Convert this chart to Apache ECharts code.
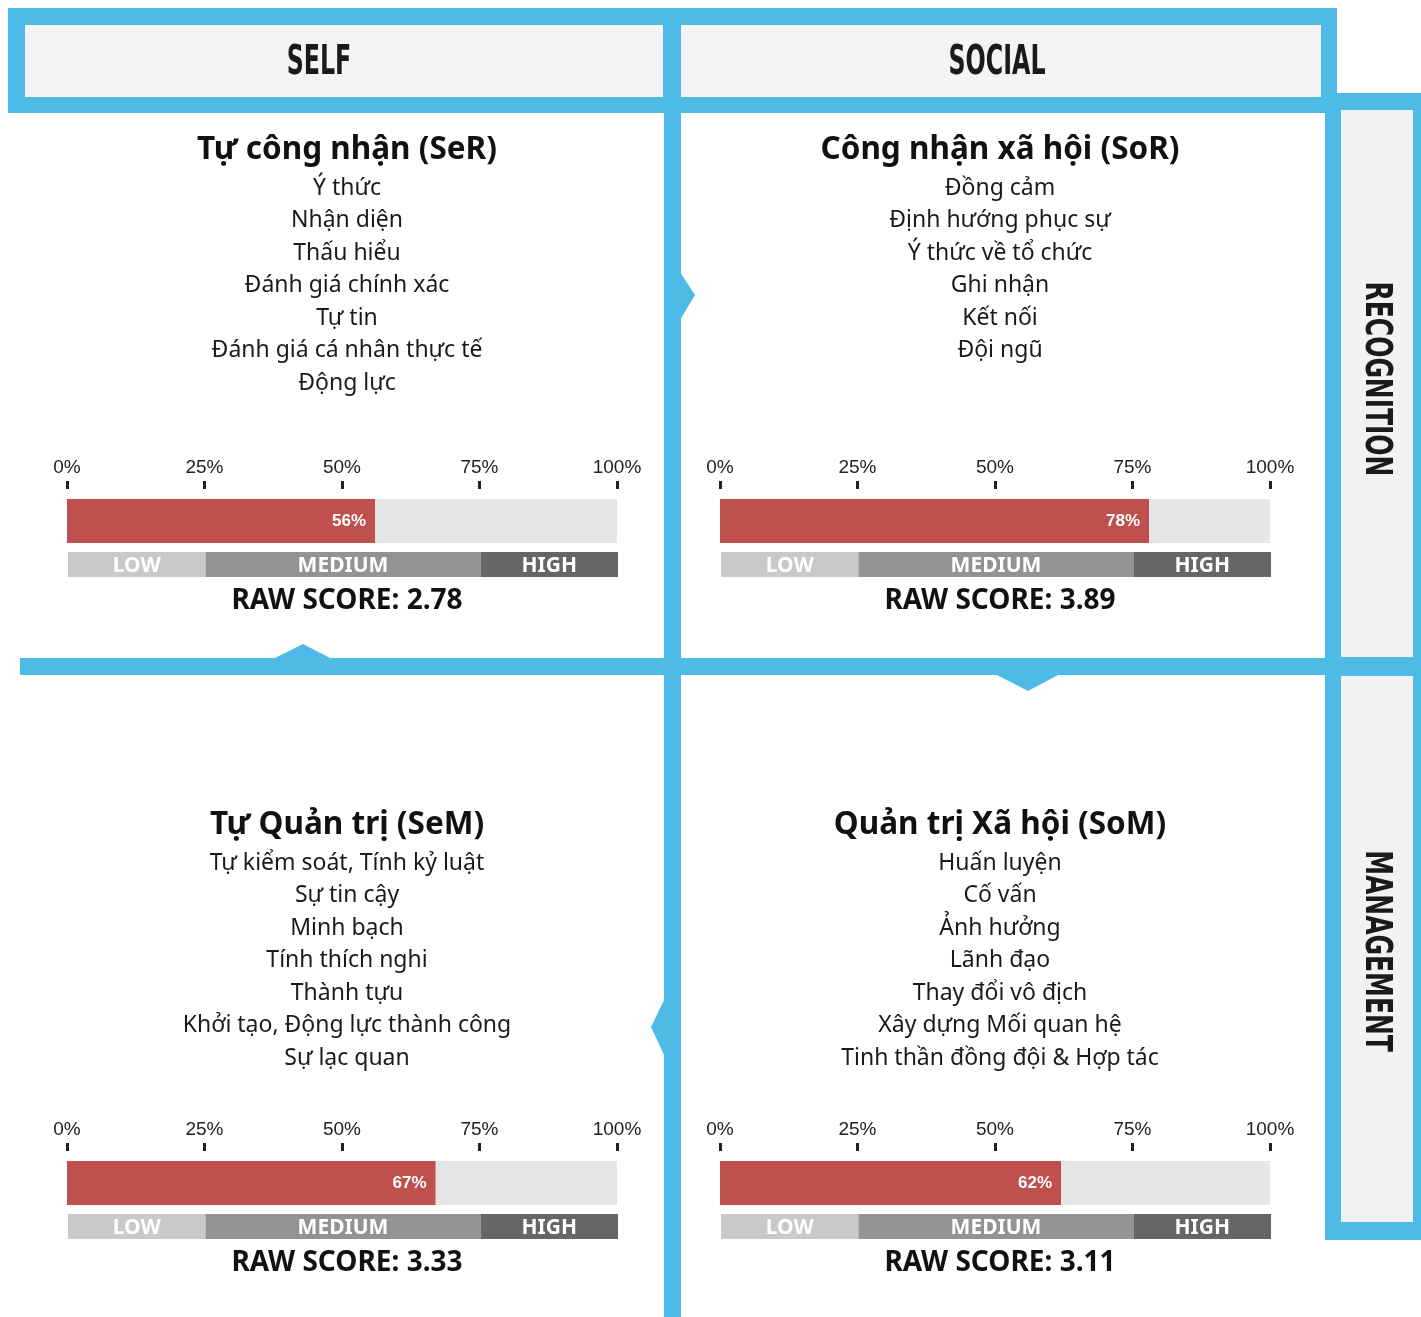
<!DOCTYPE html>
<html>
<head>
<meta charset="utf-8">
<script src="https://cdn.jsdelivr.net/npm/echarts@6/dist/echarts.min.js"></script>
<style>
html, body { margin: 0; padding: 0; background: #fff; }
#main { width: 1421px; height: 1317px; }
</style>
</head>
<body>
<div id="main"></div>
<script>
// data
const columnHeaders = ['SELF', 'SOCIAL'];
const rowHeaders = ['RECOGNITION', 'MANAGEMENT'];
const quadrantTitles = ['Tự công nhận (SeR)', 'Công nhận xã hội (SoR)', 'Tự Quản trị (SeM)', 'Quản trị Xã hội (SoM)'];
const selfRecognitionItems = ['Ý thức', 'Nhận diện', 'Thấu hiểu', 'Đánh giá chính xác', 'Tự tin', 'Đánh giá cá nhân thực tế', 'Động lực'];
const socialRecognitionItems = ['Đồng cảm', 'Định hướng phục sự', 'Ý thức về tổ chức', 'Ghi nhận', 'Kết nối', 'Đội ngũ'];
const selfManagementItems = ['Tự kiểm soát, Tính kỷ luật', 'Sự tin cậy', 'Minh bạch', 'Tính thích nghi', 'Thành tựu', 'Khởi tạo, Động lực thành công', 'Sự lạc quan'];
const socialManagementItems = ['Huấn luyện', 'Cố vấn', 'Ảnh hưởng', 'Lãnh đạo', 'Thay đổi vô địch', 'Xây dựng Mối quan hệ', 'Tinh thần đồng đội & Hợp tác'];
const percentValues = [56, 78, 67, 62];
const rawScores = ['2.78', '3.89', '3.33', '3.11'];
const levelNames = ['LOW', 'MEDIUM', 'HIGH'];
const levelSpans = [25, 50, 25];

const quadrantItems = [selfRecognitionItems, socialRecognitionItems, selfManagementItems, socialManagementItems];

// layout
const BLUE = '#4DBBE5';
const levelColors = ['#C9C9C9', '#939393', '#666666'];
const centerX = [347, 1000, 347, 1000];
const barLeft = [67, 720, 67, 720];
const textTop = [0, 0, 675, 675];
const barTop = [499, 499, 1161, 1161];
const bodyFont = '"Noto Sans", sans-serif';

const chart = echarts.init(document.getElementById('main'));

const graphic = [];
function rect(x, y, w, h, fill) {
  graphic.push({ type: 'rect', z: -1, shape: { x: x, y: y, width: w, height: h }, style: { fill: fill }, silent: true });
}
function poly(points) {
  graphic.push({ type: 'polygon', z: -1, shape: { points: points }, style: { fill: BLUE }, silent: true });
}

// frame
rect(8, 8, 1329, 105, BLUE);
rect(25, 25, 638, 72, '#F4F4F4');
rect(681, 25, 640, 72, '#F4F4F4');
rect(1325, 93, 96, 1147, BLUE);
rect(1341, 110, 72, 547, '#F2F2F2');
rect(1341, 676, 72, 546, '#F2F2F2');
rect(664, 97, 17, 1220, BLUE);
rect(20, 658, 1321, 17, BLUE);
poly([[680, 272], [695, 295], [680, 320]]);
poly([[273, 659], [303, 644], [332, 659]]);
poly([[995, 674], [1028, 691], [1060, 674]]);
poly([[665, 998], [651, 1027], [665, 1057]]);

// headers
[319, 997].forEach(function (x, i) {
  graphic.push({
    type: 'text', z: 5, x: x, y: 64, scaleX: 0.66,
    style: { text: columnHeaders[i], align: 'center', verticalAlign: 'middle', fill: '#1a1a1a',
      font: 'bold 40px "DejaVu Sans Condensed", "DejaVu Sans", sans-serif' }
  });
});
[379, 951].forEach(function (y, i) {
  graphic.push({
    type: 'text', z: 5, x: 1376, y: y, rotation: -Math.PI / 2, scaleX: 0.73,
    style: { text: rowHeaders[i], align: 'center', verticalAlign: 'middle', fill: '#1a1a1a',
      font: 'bold 38px "DejaVu Sans Condensed", "DejaVu Sans", sans-serif' }
  });
});

// quadrant texts
for (let q = 0; q < 4; q++) {
  graphic.push({
    type: 'text', z: 5, x: centerX[q], y: 150 + textTop[q],
    style: { text: quadrantTitles[q], align: 'center', verticalAlign: 'middle', fill: '#111',
      font: 'bold 31.5px ' + bodyFont }
  });
  quadrantItems[q].forEach(function (t, k) {
    graphic.push({
      type: 'text', z: 5, x: centerX[q], y: 188 + textTop[q] + k * 32.5,
      style: { text: t, align: 'center', verticalAlign: 'middle', fill: '#1a1a1a',
        font: '23px ' + bodyFont }
    });
  });
  graphic.push({
    type: 'text', z: 5, x: centerX[q], y: barTop[q] + 102,
    style: { text: 'RAW SCORE: ' + rawScores[q], align: 'center', verticalAlign: 'middle', fill: '#111',
      font: 'bold 28px ' + bodyFont }
  });
}

const grid = [], xAxis = [], yAxis = [], series = [];
for (let q = 0; q < 4; q++) {
  // score bar
  grid.push({ left: barLeft[q], top: barTop[q], width: 550, height: 44 });
  xAxis.push({
    gridIndex: 2 * q, type: 'value', min: 0, max: 100, interval: 25, position: 'top', offset: 10,
    axisLine: { show: false },
    axisTick: { show: true, length: 8, lineStyle: { color: '#222', width: 3 } },
    splitLine: { show: false },
    axisLabel: { formatter: '{value}%', margin: 12, fontSize: 19, color: '#222', fontFamily: 'Liberation Sans' }
  });
  yAxis.push({ gridIndex: 2 * q, type: 'category', data: ['score'], show: false });
  series.push({
    type: 'bar', xAxisIndex: 2 * q, yAxisIndex: 2 * q, barWidth: 44,
    data: [percentValues[q]],
    showBackground: true, backgroundStyle: { color: '#E6E6E6' },
    itemStyle: { color: '#C0504D' },
    label: { show: true, position: 'insideRight', distance: 9, formatter: '{c}%', color: '#fff',
      fontWeight: 'bold', fontSize: 17, fontFamily: 'Liberation Sans' },
    silent: true
  });
  // level band
  grid.push({ left: barLeft[q] + 1, top: barTop[q] + 53, width: 550, height: 25 });
  xAxis.push({ gridIndex: 2 * q + 1, type: 'value', min: 0, max: 100, show: false });
  yAxis.push({ gridIndex: 2 * q + 1, type: 'category', data: ['level'], show: false });
  levelNames.forEach(function (name, i) {
    series.push({
      type: 'bar', name: name, stack: 'band' + q, xAxisIndex: 2 * q + 1, yAxisIndex: 2 * q + 1,
      barWidth: 25, data: [levelSpans[i]],
      itemStyle: { color: levelColors[i] },
      label: { show: true, position: 'inside', offset: [0, 2], formatter: name, color: '#fff',
        fontWeight: 'bold', fontSize: 21, fontFamily: bodyFont },
      silent: true
    });
  });
}

chart.setOption({
  animation: false,
  backgroundColor: '#fff',
  graphic: graphic,
  grid: grid,
  xAxis: xAxis,
  yAxis: yAxis,
  series: series
});
</script>
</body>
</html>
